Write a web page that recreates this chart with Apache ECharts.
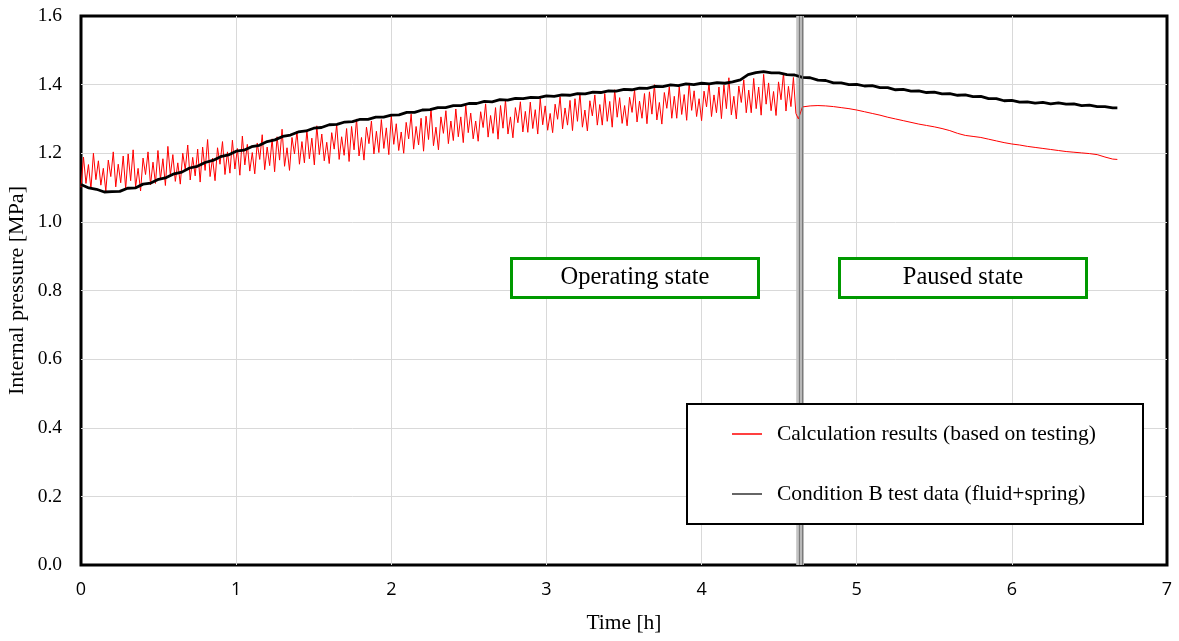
<!DOCTYPE html>
<html>
<head>
<meta charset="utf-8">
<script src="https://cdn.jsdelivr.net/npm/echarts@6/dist/echarts.min.js"></script>
<style>
html,body{margin:0;padding:0;background:#fff;}
#chart{width:1179px;height:641px;}
</style>
</head>
<body>
<div id="chart"></div>
<script>
// ---- data ----
var xTicks = [0, 1, 2, 3, 4, 5, 6, 7];
var yTicks = [0, 0.2, 0.4, 0.6, 0.8, 1.0, 1.2, 1.4, 1.6];

// Calculation results, operating state: sampled every 0.016 h from t = 0
var calcOpStart = 0;
var calcOpStep = 0.016;
var calcOpValues = [
  1.101, 1.189, 1.112, 1.167, 1.096, 1.200, 1.123, 1.178, 1.107, 1.156,
  1.090, 1.180, 1.132, 1.204, 1.102, 1.168, 1.114, 1.192, 1.096, 1.198,
  1.120, 1.210, 1.102, 1.156, 1.090, 1.186, 1.138, 1.204, 1.108, 1.174,
  1.112, 1.208, 1.124, 1.184, 1.106, 1.220, 1.136, 1.196, 1.118, 1.172,
  1.110, 1.200, 1.152, 1.224, 1.122, 1.188, 1.134, 1.212, 1.116, 1.218,
  1.150, 1.240, 1.132, 1.186, 1.120, 1.216, 1.168, 1.234, 1.138, 1.204,
  1.142, 1.238, 1.154, 1.214, 1.136, 1.250, 1.166, 1.226, 1.148, 1.202,
  1.140, 1.230, 1.182, 1.254, 1.152, 1.218, 1.164, 1.242, 1.146, 1.248,
  1.180, 1.270, 1.162, 1.216, 1.150, 1.246, 1.198, 1.264, 1.168, 1.234,
  1.172, 1.268, 1.184, 1.244, 1.166, 1.280, 1.196, 1.256, 1.178, 1.232,
  1.170, 1.260, 1.212, 1.284, 1.182, 1.248, 1.194, 1.272, 1.176, 1.278,
  1.210, 1.300, 1.192, 1.246, 1.180, 1.276, 1.228, 1.294, 1.198, 1.264,
  1.202, 1.298, 1.214, 1.274, 1.196, 1.310, 1.226, 1.286, 1.208, 1.262,
  1.200, 1.290, 1.242, 1.314, 1.212, 1.278, 1.224, 1.302, 1.206, 1.308,
  1.240, 1.330, 1.222, 1.276, 1.210, 1.306, 1.258, 1.324, 1.228, 1.294,
  1.237, 1.329, 1.248, 1.306, 1.231, 1.340, 1.260, 1.317, 1.242, 1.294,
  1.235, 1.321, 1.275, 1.344, 1.247, 1.310, 1.258, 1.333, 1.241, 1.339,
  1.273, 1.355, 1.256, 1.306, 1.245, 1.333, 1.289, 1.350, 1.262, 1.322,
  1.261, 1.349, 1.272, 1.327, 1.256, 1.360, 1.283, 1.338, 1.267, 1.316,
  1.260, 1.343, 1.299, 1.365, 1.271, 1.332, 1.282, 1.354, 1.266, 1.359,
  1.293, 1.375, 1.276, 1.326, 1.265, 1.353, 1.309, 1.370, 1.282, 1.342,
  1.282, 1.374, 1.293, 1.351, 1.276, 1.385, 1.305, 1.362, 1.287, 1.339,
  1.280, 1.363, 1.319, 1.385, 1.291, 1.352, 1.302, 1.374, 1.286, 1.379,
  1.314, 1.400, 1.297, 1.348, 1.285, 1.377, 1.331, 1.394, 1.302, 1.366,
  1.302, 1.394, 1.313, 1.371, 1.296, 1.405, 1.325, 1.382, 1.307, 1.359,
  1.295, 1.381, 1.335, 1.404, 1.307, 1.370, 1.318, 1.393, 1.301, 1.399,
  1.330, 1.420, 1.312, 1.366, 1.300, 1.396, 1.348, 1.414, 1.318, 1.384,
  1.318, 1.418, 1.330, 1.393, 1.311, 1.430, 1.343, 1.405, 1.324, 1.380,
  1.310, 1.408, 1.356, 1.434, 1.323, 1.395, 1.336, 1.421, 1.316, 1.300
];

// Calculation results, paused state
var calcPauseTimes = [4.65, 4.70, 4.75, 4.80, 4.85, 4.90, 4.95, 5.00, 5.05, 5.10,
  5.15, 5.20, 5.25, 5.30, 5.35, 5.40, 5.45, 5.50, 5.55, 5.60,
  5.65, 5.70, 5.75, 5.80, 5.85, 5.90, 5.95, 6.00, 6.05, 6.10,
  6.15, 6.20, 6.25, 6.30, 6.35, 6.40, 6.45, 6.50, 6.55, 6.60, 6.65, 6.68];
var calcPauseValues = [1.335, 1.338, 1.339, 1.338, 1.336, 1.333, 1.330, 1.326, 1.321, 1.316,
  1.311, 1.305, 1.300, 1.295, 1.290, 1.285, 1.281, 1.277, 1.272, 1.266,
  1.258, 1.252, 1.249, 1.246, 1.241, 1.236, 1.231, 1.227, 1.224, 1.220,
  1.217, 1.214, 1.211, 1.208, 1.205, 1.203, 1.201, 1.199, 1.196, 1.189, 1.183, 1.182];

// Condition B test data: sampled every 0.05 h from t = 0, last point at 6.68 h
var testStart = 0;
var testStep = 0.05;
var testValues = [
  1.109, 1.099, 1.095, 1.087, 1.088, 1.089, 1.098, 1.099, 1.110, 1.113,
  1.124, 1.129, 1.140, 1.145, 1.157, 1.162, 1.173, 1.179, 1.190, 1.195,
  1.206, 1.209, 1.219, 1.223, 1.234, 1.239, 1.249, 1.253, 1.262, 1.265,
  1.273, 1.275, 1.283, 1.284, 1.291, 1.292, 1.299, 1.299, 1.305, 1.305,
  1.311, 1.312, 1.319, 1.319, 1.326, 1.327, 1.333, 1.333, 1.339, 1.339,
  1.345, 1.345, 1.351, 1.350, 1.356, 1.355, 1.360, 1.359, 1.363, 1.362,
  1.367, 1.366, 1.370, 1.369, 1.374, 1.373, 1.378, 1.377, 1.382, 1.381,
  1.386, 1.385, 1.390, 1.389, 1.395, 1.394, 1.399, 1.397, 1.402, 1.400,
  1.404, 1.402, 1.406, 1.404, 1.408, 1.414, 1.429, 1.435, 1.438, 1.434,
  1.434, 1.429, 1.428, 1.421, 1.420, 1.413, 1.412, 1.405, 1.405, 1.400,
  1.401, 1.396, 1.397, 1.391, 1.391, 1.385, 1.386, 1.381, 1.382, 1.377,
  1.378, 1.373, 1.374, 1.369, 1.370, 1.365, 1.366, 1.359, 1.359, 1.353,
  1.354, 1.349, 1.350, 1.346, 1.348, 1.344, 1.347, 1.343, 1.344, 1.339,
  1.340, 1.336, 1.336, 1.332
];
var testEndTime = 6.68;
var testEndValue = 1.332;

// state switch (vertical divider) and labels
var switchBand = [4.610, 4.660];
var switchLines = [4.625, 4.646];
var seriesNames = ['Calculation results (based on testing)', 'Condition B test data (fluid+spring)'];
var stateLabels = ['Operating state', 'Paused state'];

// ---- build ----
var calcData = [];
for (var i = 0; i < calcOpValues.length; i++) {
  calcData.push([+(calcOpStart + i * calcOpStep).toFixed(4), calcOpValues[i]]);
}
for (var j = 0; j < calcPauseTimes.length; j++) {
  calcData.push([calcPauseTimes[j], calcPauseValues[j]]);
}
var testData = [];
for (var k = 0; k < testValues.length; k++) {
  testData.push([+(testStart + k * testStep).toFixed(3), testValues[k]]);
}
testData.push([testEndTime, testEndValue]);

var serif = 'Liberation Serif';
var chart = echarts.init(document.getElementById('chart'));
chart.setOption({
  animation: false,
  backgroundColor: '#fff',
  grid: {
    left: 81, right: 12, top: 16, bottom: 76,
    outerBoundsMode: 'none', containLabel: false,
    show: true, borderColor: '#000', borderWidth: 3, backgroundColor: 'transparent'
  },
  xAxis: {
    type: 'value', min: xTicks[0], max: xTicks[xTicks.length - 1], interval: 1,
    name: 'Time [h]', nameLocation: 'middle', nameGap: 47, nameMoveOverlap: false,
    nameTextStyle: { fontFamily: serif, fontSize: 21.5, color: '#000' },
    axisLine: { show: false }, axisTick: { show: false },
    axisLabel: { fontFamily: 'Open Sans', fontSize: 18, color: '#000', margin: 16 },
    splitLine: { show: true, showMinLine: false, showMaxLine: false, lineStyle: { color: '#d9d9d9', width: 1 } }
  },
  yAxis: {
    type: 'value', min: yTicks[0], max: yTicks[yTicks.length - 1], interval: 0.2,
    name: 'Internal pressure [MPa]', nameLocation: 'middle', nameGap: 53, nameMoveOverlap: false,
    nameTextStyle: { fontFamily: serif, fontSize: 22, color: '#000' },
    axisLine: { show: false }, axisTick: { show: false },
    axisLabel: { fontFamily: serif, fontSize: 19.5, color: '#000', margin: 19,
      formatter: function (v) { return v.toFixed(1); } },
    splitLine: { show: true, showMinLine: false, showMaxLine: false, lineStyle: { color: '#d9d9d9', width: 1 } }
  },
  legend: {
    orient: 'vertical', left: 727, top: 418, itemGap: 38,
    itemWidth: 30, itemHeight: 1.5, icon: 'rect', z: 20,
    textStyle: { fontFamily: serif, fontSize: 21.5, color: '#000', padding: [0, 0, 0, 10] },
    data: seriesNames
  },
  graphic: [
    { type: 'rect', z: 15, shape: { x: 687, y: 404, width: 456, height: 120 },
      style: { fill: '#fff', stroke: '#000', lineWidth: 2 } },
    { type: 'rect', z: 15, shape: { x: 511.5, y: 258.5, width: 247, height: 39 },
      style: { fill: '#fff', stroke: '#009900', lineWidth: 3 } },
    { type: 'text', z: 16, x: 635, y: 278, style: { text: stateLabels[0], fill: '#000',
      font: '24.5px "Liberation Serif"', textAlign: 'center', textVerticalAlign: 'middle' } },
    { type: 'rect', z: 15, shape: { x: 839.5, y: 258.5, width: 247, height: 39 },
      style: { fill: '#fff', stroke: '#009900', lineWidth: 3 } },
    { type: 'text', z: 16, x: 963, y: 278, style: { text: stateLabels[1], fill: '#000',
      font: '24.5px "Liberation Serif"', textAlign: 'center', textVerticalAlign: 'middle' } }
  ],
  series: [
    {
      name: seriesNames[0], type: 'line', data: calcData, showSymbol: false, symbol: 'none',
      lineStyle: { color: '#ff0000', width: 1 }, itemStyle: { color: '#ff0000' }, z: 3,
      markArea: { silent: true, itemStyle: { color: '#c4c4c4' },
        data: [[{ xAxis: switchBand[0] }, { xAxis: switchBand[1] }]] },
      markLine: { silent: true, symbol: 'none', label: { show: false },
        lineStyle: { color: '#7a7a7a', width: 1.3, type: 'solid' },
        data: switchLines.map(function (x) { return { xAxis: x }; }) }
    },
    {
      name: seriesNames[1], type: 'line', data: testData, showSymbol: false, symbol: 'none',
      lineStyle: { color: '#000', width: 2.8 }, itemStyle: { color: '#333' }, z: 4
    }
  ]
});
</script>
</body>
</html>
